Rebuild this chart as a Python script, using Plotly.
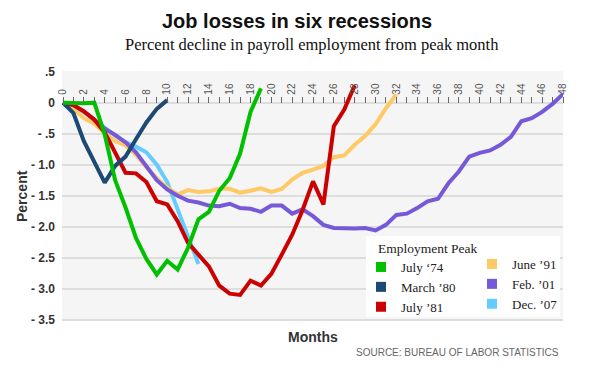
import plotly.graph_objects as go

# ---------------- data ----------------
months_labels = [str(m) if m % 2 == 0 else "" for m in range(49)]
month_ticks = list(range(49))

y_tickvals = [0.5, 0, -0.5, -1.0, -1.5, -2.0, -2.5, -3.0, -3.5]
y_ticktext = [".5", "0", "- .5", "- 1.0", "- 1.5", "- 2.0", "- 2.5", "- 3.0", "- 3.5"]

july74 = [0, -0.01, -0.01, 0, -0.51, -1.25, -1.69, -2.18, -2.52, -2.77, -2.55, -2.69,
          -2.34, -1.88, -1.76, -1.42, -1.22, -0.82, -0.15, 0.23]
march80 = [0, -0.17, -0.62, -0.97, -1.29, -1.02, -0.87, -0.59, -0.32, -0.10, 0.04]
july81 = [0, -0.04, -0.14, -0.27, -0.48, -0.82, -1.13, -1.14, -1.28, -1.59, -1.64, -1.91,
          -2.26, -2.45, -2.64, -2.95, -3.08, -3.10, -2.87, -2.95, -2.76, -2.45, -2.13,
          -1.73, -1.27, -1.64, -0.38, -0.11, 0.28]
june91 = [0, -0.10, -0.25, -0.34, -0.49, -0.62, -0.69, -0.84, -1.04, -1.22, -1.37, -1.48,
          -1.41, -1.44, -1.43, -1.39, -1.39, -1.45, -1.42, -1.38, -1.44, -1.39, -1.24,
          -1.13, -1.08, -1.02, -0.88, -0.85, -0.68, -0.54, -0.35, -0.09, 0.13]
feb01 = [0, -0.04, -0.14, -0.27, -0.42, -0.52, -0.64, -0.80, -1.03, -1.25, -1.40, -1.50,
         -1.58, -1.61, -1.66, -1.67, -1.63, -1.70, -1.71, -1.76, -1.66, -1.66, -1.79,
         -1.72, -1.83, -1.97, -2.02, -2.03, -2.03, -2.02, -2.06, -1.97, -1.81, -1.79,
         -1.70, -1.59, -1.55, -1.30, -1.11, -0.87, -0.81, -0.77, -0.68, -0.55, -0.30,
         -0.25, -0.15, -0.02, 0.14]
dec07 = [0, -0.05, -0.15, -0.28, -0.42, -0.53, -0.64, -0.71, -0.80, -1.00, -1.28, -1.72,
         -2.20, -2.60]

series = [
    ("Dec. \u201907", dec07, "#66ccff"),
    ("June \u201991", june91, "#ffc965"),
    ("Feb. \u201901", feb01, "#7659d9"),
    ("July \u201981", july81, "#cc0000"),
    ("March \u201980", march80, "#1c4a74"),
    ("July \u201874", july74, "#00c000"),
]
legend_left = ["July \u201874", "March \u201980", "July \u201981"]
legend_right = ["June \u201991", "Feb. \u201901", "Dec. \u201907"]
colors = {name: c for name, _, c in series}

# ---------------- figure ----------------
fig = go.Figure()
for name, vals, col in series:
    fig.add_trace(go.Scatter(
        x=list(range(len(vals))), y=vals, mode="lines", name=name,
        line=dict(color=col, width=4), showlegend=False, hoverinfo="skip"))

for name in legend_left:
    fig.add_trace(go.Scatter(x=[None], y=[None], mode="markers", name=name,
                             marker=dict(symbol="square", size=10, color=colors[name]),
                             legend="legend"))
for name in legend_right:
    fig.add_trace(go.Scatter(x=[None], y=[None], mode="markers", name=name,
                             marker=dict(symbol="square", size=10, color=colors[name]),
                             legend="legend2"))

OFF = 8  # page body margin
W, H = 597 - OFF, 372 - OFF
L, R, T, B = 62 - OFF, 34, 71 - OFF, 51
pw, ph = W - L - R, H - T - B

def px_x(px):
    return (px - OFF - L) / pw

def px_y(py):
    return (H - B - (py - OFF)) / ph

yr = [-3.52, 0.51]
y0_paper = (0 - yr[0]) / (yr[1] - yr[0])

legend_font = dict(family="Liberation Serif", size=13, color="#222222")

fig.update_layout(
    width=W, height=H,
    margin=dict(l=L, r=R, t=T, b=B),
    paper_bgcolor="white",
    plot_bgcolor="#f5f5f5",
    xaxis=dict(
        range=[-0.1, 48], side="top", anchor="free", position=y0_paper,
        tickvals=month_ticks, ticktext=months_labels, tickangle=-90,
        ticks="outside", ticklen=6, tickwidth=1, tickcolor="#666666",
        tickfont=dict(family="Arial", size=10, color="#555555"),
        showgrid=False, zeroline=False, showline=False, fixedrange=True,
    ),
    yaxis=dict(
        range=yr, tickvals=y_tickvals, ticktext=y_ticktext,
        tickfont=dict(family="Arial", size=12, color="#333333", weight="bold"),
        showgrid=True, gridcolor="#dddddd", gridwidth=2,
        zeroline=False, showline=False, ticks="", ticklabelstandoff=6,
    ),
    legend=dict(x=px_x(361), y=px_y(252), xanchor="left", yanchor="top",
                bgcolor="rgba(0,0,0,0)", font=legend_font, itemclick=False),
    legend2=dict(x=px_x(472), y=px_y(249), xanchor="left", yanchor="top",
                 bgcolor="rgba(0,0,0,0)", font=legend_font, itemclick=False),
    shapes=[dict(type="rect", xref="paper", yref="paper",
                 x0=px_x(366), x1=px_x(560), y0=px_y(317), y1=px_y(236),
                 fillcolor="white", line=dict(width=0), layer="above")],
    annotations=[
        dict(text="<b>Job losses in six recessions</b>", xref="paper", yref="paper",
             x=px_x(297), y=px_y(21), xanchor="center", yanchor="middle", showarrow=False,
             font=dict(family="Arial", size=20, color="#111111")),
        dict(text="Percent decline in payroll employment from peak month", xref="paper",
             yref="paper", x=px_x(312), y=px_y(45), xanchor="center", yanchor="middle",
             showarrow=False, font=dict(family="Liberation Serif", size=16.5, color="#111111")),
        dict(text="<b>Percent</b>", xref="paper", yref="paper", x=px_x(22), y=px_y(196),
             xanchor="center", yanchor="middle", textangle=-90, showarrow=False,
             font=dict(family="Arial", size=14, color="#333333")),
        dict(text="<b>Months</b>", xref="paper", yref="paper", x=px_x(313), y=px_y(337),
             xanchor="center", yanchor="middle", showarrow=False,
             font=dict(family="Arial", size=14, color="#333333")),
        dict(text="SOURCE: BUREAU OF LABOR STATISTICS", xref="paper", yref="paper",
             x=px_x(561), y=px_y(352), xanchor="right", yanchor="middle", showarrow=False,
             font=dict(family="Arial", size=10, color="#666666")),
        dict(text="Employment Peak", xref="paper", yref="paper", x=px_x(376), y=px_y(248),
             xanchor="left", yanchor="middle", showarrow=False,
             font=dict(family="Liberation Serif", size=13.5, color="#222222")),
    ],
)

fig.write_html("out.html")
